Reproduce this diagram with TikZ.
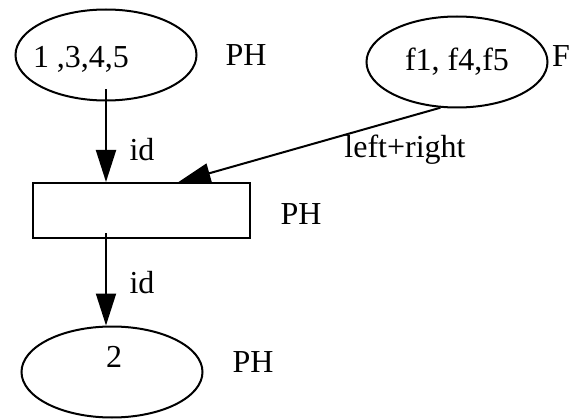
\documentclass[tikz,border=0pt]{standalone}
\usepackage{fontspec}
\setmainfont{Liberation Serif}
\usetikzlibrary{arrows.meta,shapes.geometric}

\begin{document}
\begin{tikzpicture}[x=1pt,y=-1pt,line width=2pt,>={Triangle[length=32pt,width=20pt]},font=\fontsize{32}{36}\selectfont,place/.style={draw,ellipse,minimum width=181pt,minimum height=91pt,inner sep=0pt},trans/.style={draw,rectangle,minimum width=217pt,minimum height=55pt,inner sep=0pt}]
	\useasboundingbox (0,0) rectangle (582,420);

	% places and the transition
	\node[place]			(p1)		at (106,55)		{};
	\node[place]			(p2)		at (457,62)		{f1, f4,f5};
	\node[trans]			(t)			at (141.5,210.5)	{};
	\node[place]			(p3)		at (112,372)	{};

	% tokens that sit off centre
	\node					(p1tok)		at (81,59)		{1 ,3,4,5};
	\node					(p3tok)		at (114,357)	{2};

	% colour sets
	\node					(p1col)		at (246,55)		{PH};
	\node					(p2col)		at (561,56)		{F};
	\node					(tcol)		at (301,214)	{PH};
	\node					(p3col)		at (253,362)	{PH};

	% arc inscriptions
	\node					(a1)		at (142,150)	{id};
	\node					(a2)		at (405,150)	{left+right};
	\node					(a3)		at (142,283)	{id};

	\draw[->,shorten <=-12pt]	(p1.south)		--	(p1.south |- t.north);
	\draw[->]					(p2.250)		--	([xshift=37pt]t.north);
	\draw[->,shorten <=-6pt]	(p1 |- t.south)	--	(p1 |- p3.north);
\end{tikzpicture}
\end{document}
